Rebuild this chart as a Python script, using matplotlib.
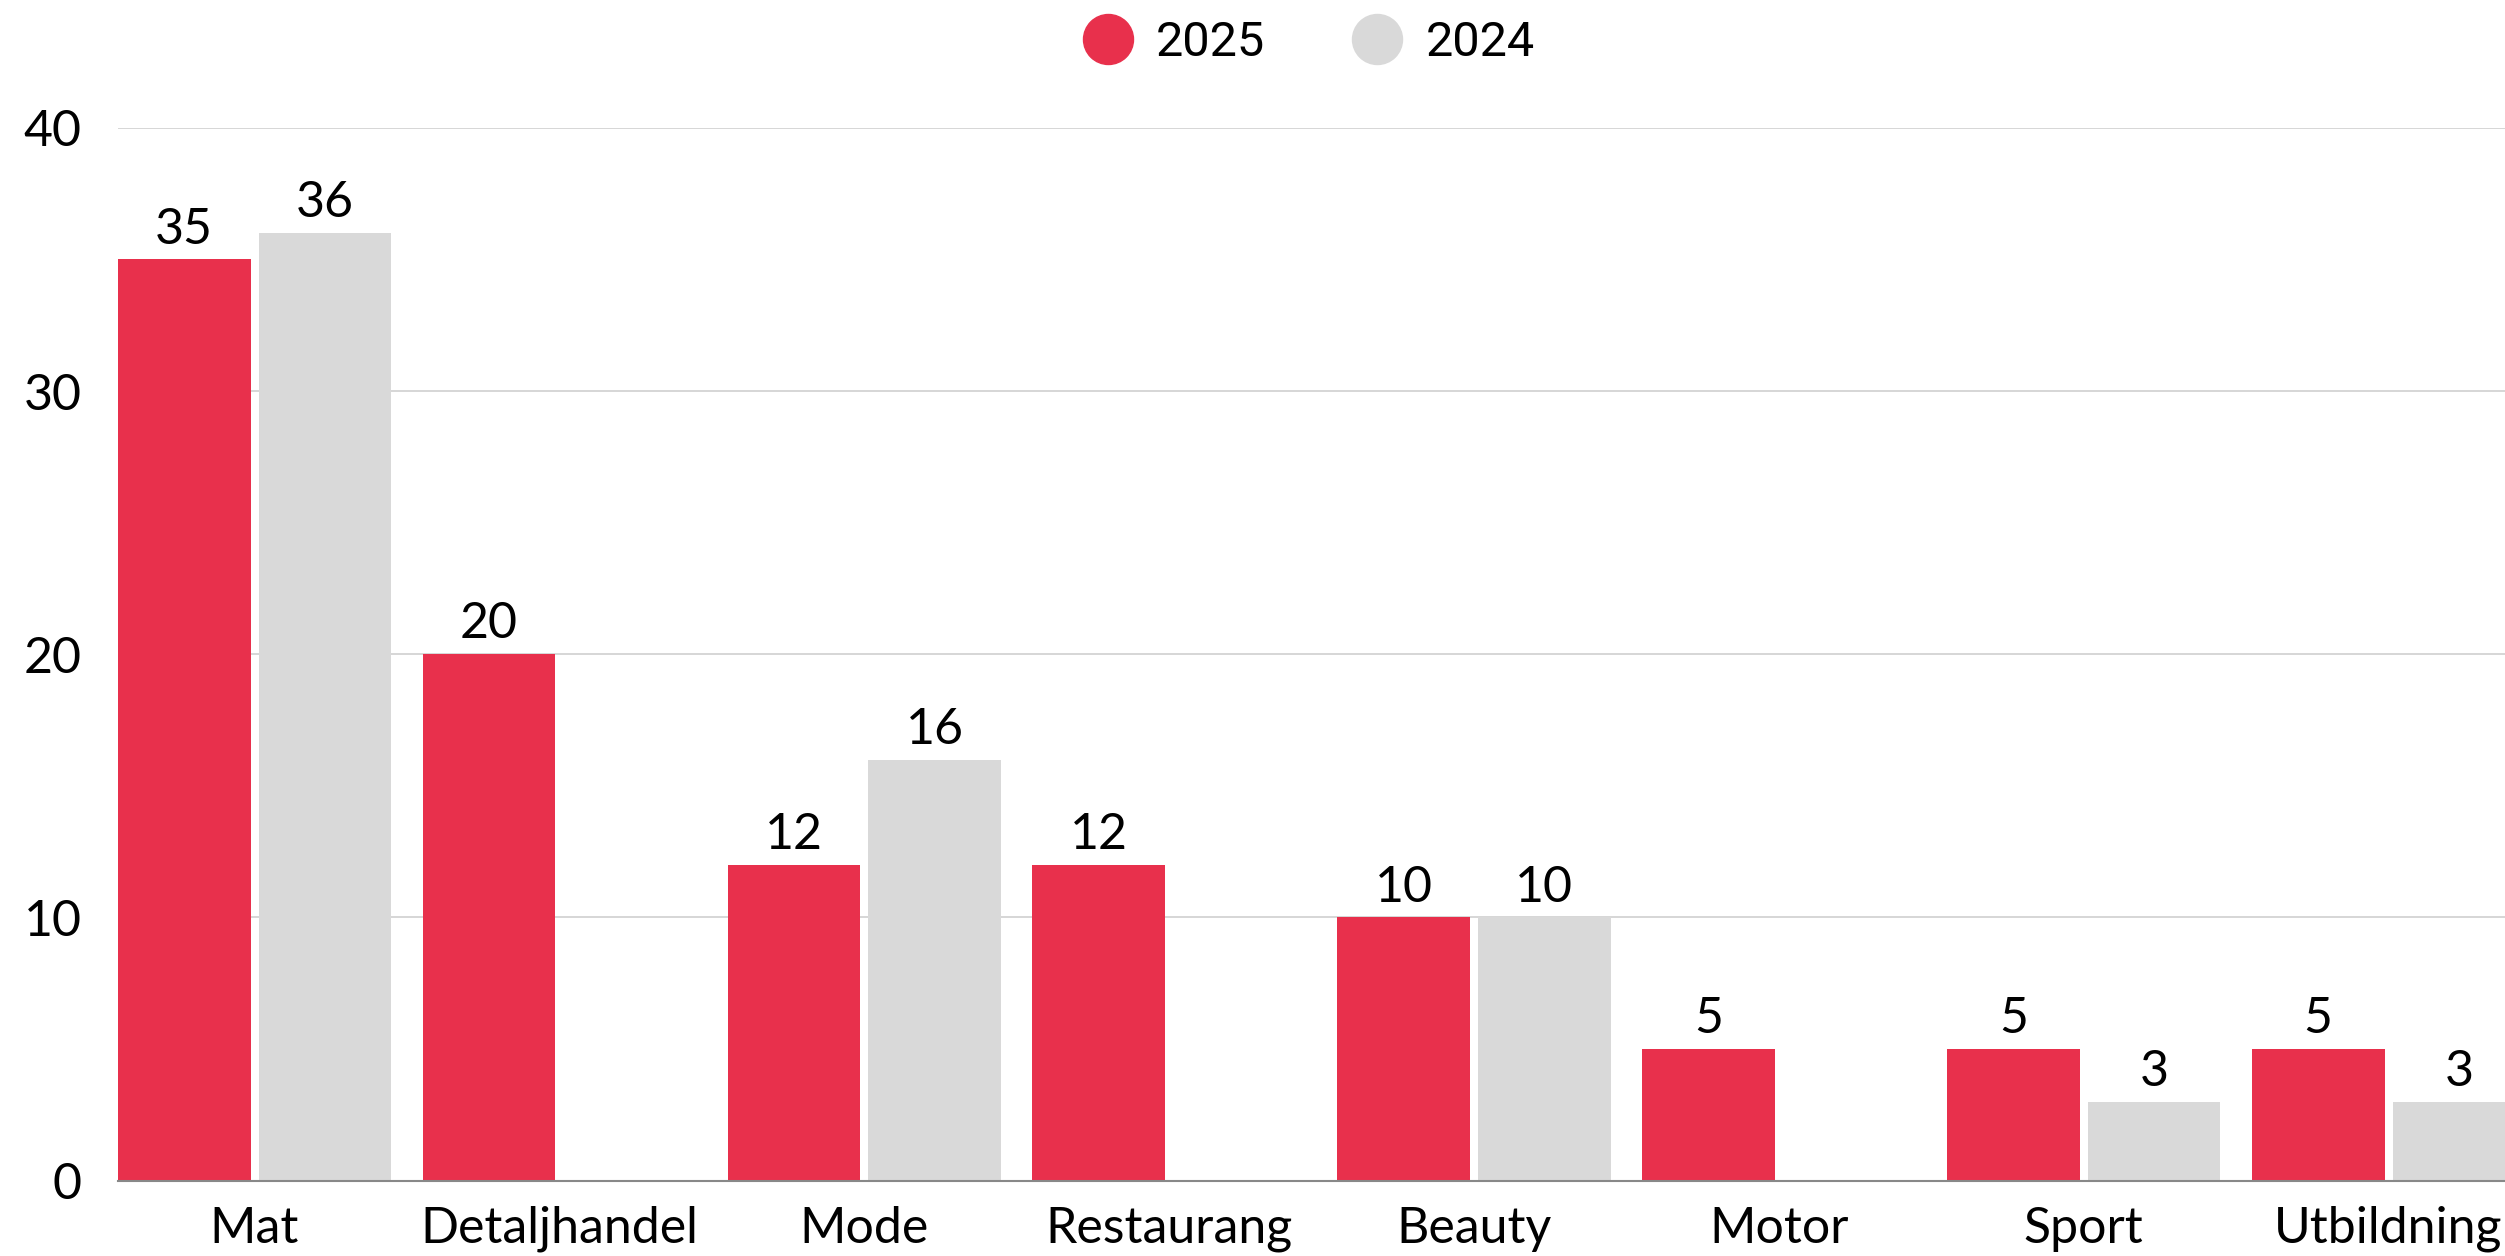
import numpy as np
import matplotlib
matplotlib.use("Agg")
import matplotlib.pyplot as plt
from matplotlib.lines import Line2D

categories = ["Mat", "Detaljhandel", "Mode", "Restaurang", "Beauty", "Motor", "Sport", "Utbildning"]
values_2025 = [35, 20, 12, 12, 10, 5, 5, 5]
values_2024 = [36, np.nan, 16, np.nan, 10, np.nan, 3, 3]
yticks = [0, 10, 20, 30, 40]

RED = "#E8304C"
GRAY = "#D9D9D9"

plt.rcParams["font.family"] = ["Lato", "DejaVu Sans"]

fig = plt.figure(figsize=(25.05, 12.56), dpi=100)
ax = fig.add_axes([0.0471, 0.0600, 1 - 0.0471, 0.8382])

x = np.arange(len(categories))
w = 0.435
off = 0.2307
b1 = ax.bar(x - off, values_2025, width=w, color=RED, zorder=3)
b2 = ax.bar(x + off, values_2024, width=w, color=GRAY, zorder=3)

FS = 36
for rects, vals in ((b1, values_2025), (b2, values_2024)):
    for r, v in zip(rects, vals):
        if v is None or (isinstance(v, float) and np.isnan(v)):
            continue
        ax.annotate(f"{v:g}", (r.get_x() + r.get_width() / 2, v),
                    xytext=(0, 5), textcoords="offset points",
                    ha="center", va="bottom", fontsize=FS, color="black")

ax.set_xlim(-0.448, 7.382)
ax.set_ylim(0, 40)
ax.set_yticks(yticks)
ax.set_yticklabels([str(t) for t in yticks], fontsize=FS)
ax.set_xticks(x)
ax.set_xticklabels(categories, fontsize=FS)
ax.tick_params(axis="both", length=0)
ax.tick_params(axis="y", pad=26)
ax.tick_params(axis="x", pad=18)
ax.grid(axis="y", color="#D0D0D0", linewidth=1.2, zorder=0)
for s in ("top", "right", "left"):
    ax.spines[s].set_visible(False)
ax.spines["bottom"].set_color("#888888")
ax.spines["bottom"].set_linewidth(1.5)
ax.spines["bottom"].set_zorder(4)

handles = [Line2D([], [], marker="o", linestyle="none", markersize=36, color=RED),
           Line2D([], [], marker="o", linestyle="none", markersize=36, color=GRAY)]
fig.legend(handles, ["2025", "2024"], loc="center", bbox_to_anchor=(0.5226, 0.966),
           ncol=2, frameon=False, handletextpad=0.5, columnspacing=1.8,
           handlelength=1.0, prop={"family": ["Roboto", "DejaVu Sans"], "size": 35})

fig.savefig("out.png", dpi=100)
